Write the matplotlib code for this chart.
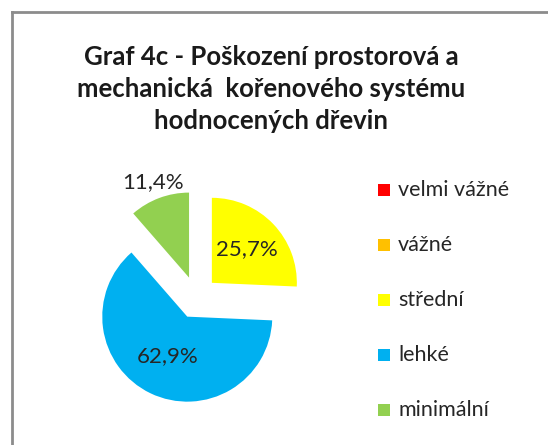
import numpy as np
import matplotlib.pyplot as plt
from matplotlib.lines import Line2D

# -------------------------------------------------------------------
# Data
# -------------------------------------------------------------------
CATEGORIES = ["velmi vážné", "vážné", "střední", "lehké", "minimální"]
SHARES = [0.0, 0.0, 25.7, 62.9, 11.4]
COLORS = ["#FF0000", "#FFC000", "#FFFF00", "#00B0F0", "#92D050"]
TITLE = "Graf 4c - Poškození prostorová a\nmechanická  kořenového systému\nhodnocených dřevin"

plt.rcParams["font.family"] = ["Lato", "DejaVu Sans"]

W, H = 548, 445
fig = plt.figure(figsize=(W / 100, H / 100), dpi=100)
ax = fig.add_axes([0, 0, 1, 1])

# chart frame (only left/top visible in the crop)
ax.add_line(Line2D([12, 12], [0, H - 12], color="#8c8c8c", lw=2))
ax.add_line(Line2D([12, W], [H - 12, H - 12], color="#8c8c8c", lw=2))

fig.text(271 / W, 1 - 89 / H, TITLE, ha="center", va="center",
         fontsize=18.5, fontweight="bold", color="#1a1a1a", linespacing=1.42)

# pie (explode is in data units, so scale by radius)
center = (196.5, H - 297.5)
radius = 85
wedges, _ = ax.pie(SHARES, colors=COLORS, startangle=90, counterclock=False,
                   explode=[0.25 * radius] * len(SHARES), radius=radius,
                   center=center, frame=True, wedgeprops=dict(linewidth=0))
ax.set_xlim(0, W)
ax.set_ylim(0, H)
ax.set_aspect("equal")
ax.axis("off")

label_dist = {2: 0.57, 3: 0.52, 4: 1.2}
for i, (w, val) in enumerate(zip(wedges, SHARES)):
    if val == 0:
        continue
    ang = np.deg2rad((w.theta1 + w.theta2) / 2)
    cx, cy = w.center
    d = label_dist[i] * radius
    ax.text(cx + d * np.cos(ang), cy + d * np.sin(ang),
            f"{val:.1f}%".replace(".", ","), ha="center", va="center",
            fontsize=16, color="#262626")

# legend
for i, (cat, col) in enumerate(zip(CATEGORIES, COLORS)):
    y = H - (190 + 55 * i)
    ax.add_patch(plt.Rectangle((378, y - 6), 12, 12, color=col, lw=0))
    ax.text(398, y, cat, ha="left", va="center", fontsize=15.5, color="#262626")

fig.savefig("out.png", dpi=100)
